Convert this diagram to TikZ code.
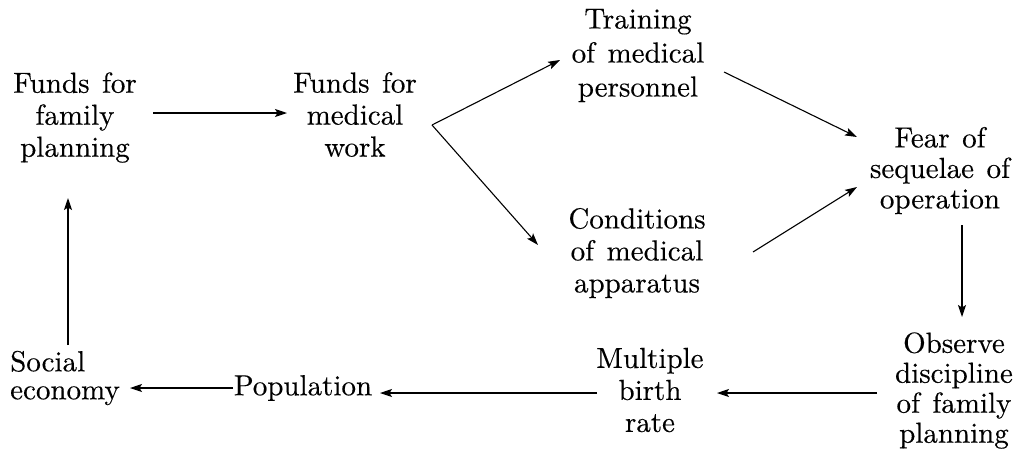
\documentclass[tikz,border=0pt]{standalone}
\usepackage{fontspec}
\setmainfont{lmroman10-regular.otf}[WordSpace=1.3, FakeBold=0.3]
\usetikzlibrary{arrows.meta,calc}
\begin{document}
\begin{tikzpicture}[x=1pt,y=-1pt,
  lbl/.style={inner sep=0pt, align=center, font=\fontsize{29}{32}\selectfont},
  arr/.style={-{Stealth[length=12pt,width=8pt,inset=2.5pt]}, line width=1.1pt}]
\fill[white] (0,0) rectangle (1021,459);
\useasboundingbox (0,0) rectangle (1021,459);
% nodes
\node[lbl] (fp) at (75,117.5) {Funds for\\family\\planning};
\node[lbl] (mw) at (355,114.5) {Funds for\\medical\\work};
\node[lbl, font=\fontsize{29}{34}\selectfont] (tr) at (638,55.5) {Training\\of medical\\personnel};
\node[lbl] (cm) at (637,253) {Conditions\\of medical\\apparatus};
\node[lbl, font=\fontsize{29}{30.5}\selectfont] (fear) at (940,170.5) {Fear of\\sequelae of\\operation};
\node[lbl, font=\fontsize{29}{30}\selectfont] (obs) at (954,390.5) {Observe\\discipline\\of family\\planning};
\node[lbl] (mb) at (650,390) {Multiple\\birth\\rate};
\node[lbl] (pop) at (303,388) {Population};
\node[lbl, align=left, font=\fontsize{29}{28}\selectfont] (se) at (65,378) {Social\\economy};
% connectors
\draw[arr] ($(fp)+(78,-4.5)$) -- ($(mw)+(-68,-1.5)$);
\coordinate (br) at ($(mw)+(77,10.5)$);
\draw[arr] (br) -- ($(tr)+(-78,4.5)$);
\draw[arr] (br) -- ($(cm)+(-99,-8)$);
\draw[arr] ($(tr)+(86,16.5)$) -- ($(fear)+(-83,-33.5)$);
\draw[arr] ($(cm)+(116,-1)$) -- ($(fear)+(-83,16.5)$);
\draw[arr] ($(fear)+(22,54.5)$) -- ($(obs)+(8,-73.5)$);
\draw[arr] ($(obs)+(-77,2.5)$) -- ($(mb)+(67,3)$);
\draw[arr] ($(mb)+(-53,3)$) -- ($(pop)+(77,5)$);
\draw[arr] ($(pop)+(-70,0)$) -- ($(se)+(65,10)$);
\draw[arr] ($(se)+(3,-33)$) -- ($(fp)+(-7,80.5)$);
\end{tikzpicture}
\end{document}
